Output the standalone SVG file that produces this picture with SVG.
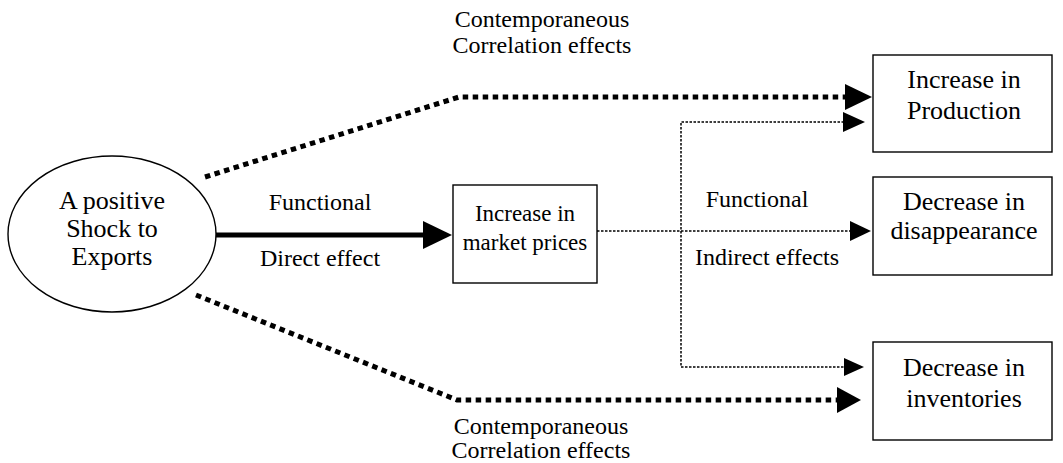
<svg xmlns="http://www.w3.org/2000/svg" width="1063" height="463" viewBox="0 0 1063 463">
  <style>
    .node { fill: #fff; stroke: #000; stroke-width: 1.4; }
    text { font-family: "Liberation Serif", "DejaVu Serif", serif; fill: #000; text-anchor: middle; }
    .ntext { font-size: 26px; }
    .ntext-sm { font-size: 23px; }
    .ltext { font-size: 24px; }
    .solid { fill: none; stroke: #000; stroke-width: 5; }
    .heavy-dot { fill: none; stroke: #000; stroke-width: 5; stroke-dasharray: 5.5 4.5; }
    .light-dot { fill: none; stroke: #000; stroke-width: 1.5; stroke-dasharray: 2.5 1.5; }
    .head { fill: #000; stroke: none; }
  </style>

  <rect width="1063" height="463" fill="#fff"/>

  <!-- connectors -->
  <g id="connectors">
    <!-- direct effect -->
    <path class="solid" d="M216,235 L425,235"/>
    <polygon class="head" points="423,221 452,235 423,249"/>

    <!-- contemporaneous correlation, upper -->
    <path class="heavy-dot" d="M205,177 L459,97 L846,97"/>
    <polygon class="head" points="845,84 872,97 845,110"/>

    <!-- contemporaneous correlation, lower -->
    <path class="heavy-dot" d="M196,295 L457,400 L838,400"/>
    <polygon class="head" points="837,387 861,400 837,413"/>

    <!-- indirect effects -->
    <path class="light-dot" d="M597,231 L851,231"/>
    <polygon class="head" points="850,221 871,231 850,241"/>
    <path class="light-dot" d="M844,122 L681,122 L681,367 L845,367"/>
    <polygon class="head" points="843,112 865,122 843,132"/>
    <polygon class="head" points="844,358 864,367 844,376"/>
  </g>

  <!-- connector labels -->
  <g id="labels">
    <text class="ltext" x="542" y="27">Contemporaneous</text>
    <text class="ltext" x="542" y="53">Correlation effects</text>
    <text class="ltext" x="320" y="210">Functional</text>
    <text class="ltext" x="320" y="266">Direct effect</text>
    <text class="ltext" x="757" y="207">Functional</text>
    <text class="ltext" x="767" y="265">Indirect effects</text>
    <text class="ltext" x="541" y="434">Contemporaneous</text>
    <text class="ltext" x="541" y="458">Correlation effects</text>
  </g>

  <g id="shock">
    <ellipse class="node" cx="112" cy="234" rx="104" ry="78"/>
    <text class="ntext" x="112" y="209">A positive</text>
    <text class="ntext" x="112" y="237">Shock to</text>
    <text class="ntext" x="112" y="265">Exports</text>
  </g>

  <g id="prices">
    <rect class="node" x="453" y="185" width="144" height="98"/>
    <text class="ntext-sm" x="525" y="221">Increase in</text>
    <text class="ntext-sm" x="525" y="250">market prices</text>
  </g>

  <g id="production">
    <rect class="node" x="873" y="55" width="179" height="97"/>
    <text class="ntext" x="964" y="88">Increase in</text>
    <text class="ntext" x="964" y="119">Production</text>
  </g>

  <g id="disappearance">
    <rect class="node" x="873" y="177" width="179" height="98"/>
    <text class="ntext" x="964" y="210">Decrease in</text>
    <text class="ntext" x="964" y="239">disappearance</text>
  </g>

  <g id="inventories">
    <rect class="node" x="873" y="342" width="179" height="98"/>
    <text class="ntext" x="964" y="376">Decrease in</text>
    <text class="ntext" x="964" y="407">inventories</text>
  </g>
</svg>
